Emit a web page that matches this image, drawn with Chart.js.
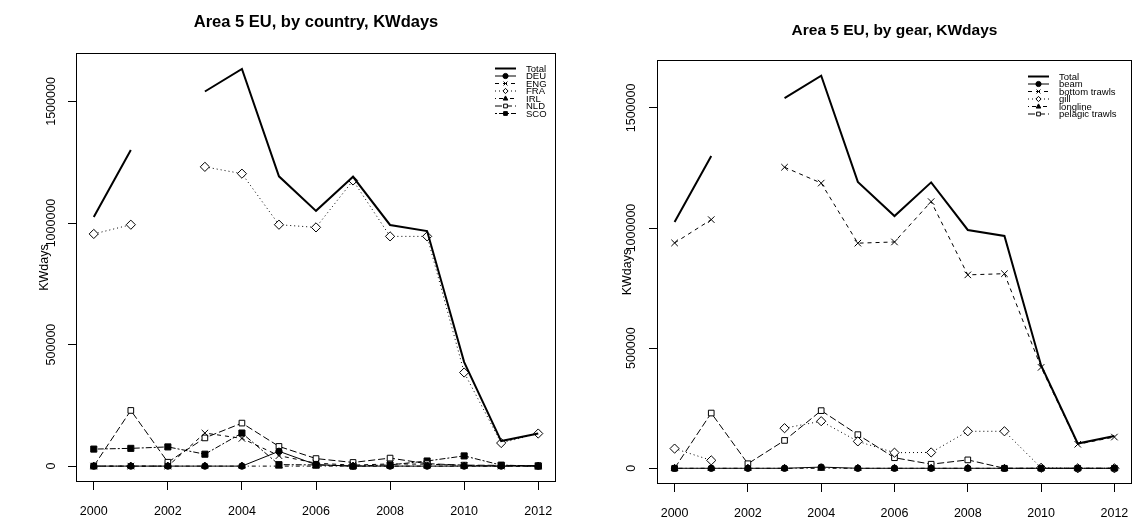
<!DOCTYPE html>
<html>
<head>
<meta charset="utf-8">
<title>Area 5 EU KWdays</title>
<script src="https://cdn.jsdelivr.net/npm/chart.js"></script>
<style>
  html, body { margin: 0; padding: 0; background: #fff; }
  #wrap { position: relative; width: 1132px; height: 520px; overflow: hidden; }
  .panel { position: absolute; top: 0; width: 566px; height: 520px; }
  #leftPanel { left: 0; }
  #rightPanel { left: 566px; }
</style>
</head>
<body>
<div id="wrap">
  <div class="panel" id="leftPanel"><canvas id="countryChart"></canvas></div>
  <div class="panel" id="rightPanel"><canvas id="gearChart"></canvas></div>
</div>
<script>
// =============== DATA ===============
const years = [2000, 2001, 2002, 2003, 2004, 2005, 2006, 2007, 2008, 2009, 2010, 2011, 2012];
const xTickValues = [2000, 2002, 2004, 2006, 2008, 2010, 2012];
const yTickValues = [0, 500000, 1000000, 1500000];

// total effort (same in both panels), null = no data
const totalKW = [1025000, 1300000, null, 1541000, 1634000, 1192000, 1050000, 1190000, 992000, 967000, 428000, 103000, 134000];

// by country
const countryNames = ["DEU", "ENG", "FRA", "IRL", "NLD", "SCO"];
const deuKW = [0, 0, 0, 0, 0, 61000, 6000, 0, 0, 0, 0, 0, 0];
const engKW = [0, 0, 0, 136000, 114000, 43000, 12000, 4000, 9000, 8000, 3000, 0, 0];
const fraKW = [955000, 993000, null, 1231000, 1203000, 993000, 982000, 1175000, 945000, 945000, 385000, 95000, 134000];
const irlKW = [0, 0, 0, 0, 0, 0, 0, 0, 0, 0, 0, 0, 0];
const nldKW = [0, 229000, 16000, 116000, 177000, 81000, 31000, 15000, 33000, 10000, 4000, 3000, 2000];
const scoKW = [70000, 73000, 79000, 49000, 136000, 6000, 5000, 0, 5000, 21000, 42000, 4000, 0];

// by gear
const gearNames = ["beam", "bottom trawls", "gill", "longline", "pelagic trawls"];
const beamKW = [0, 0, 0, 0, 5000, 0, 0, 0, 0, 0, 0, 0, 0];
const bottomTrawlKW = [938000, 1035000, null, 1253000, 1187000, 937000, 942000, 1110000, 805000, 810000, 420000, 100000, 130000];
const gillKW = [82000, 33000, null, 167000, 196000, 112000, 65000, 66000, 154000, 154000, 2000, 0, 0];
const longlineKW = [0, 0, 0, 0, 0, 0, 0, 0, 0, 0, 0, 0, 0];
const pelagicTrawlKW = [0, 230000, 19000, 116000, 240000, 140000, 44000, 17000, 35000, 0, 0, 0, 0];

// =============== R-like line types / symbols ===============
const LTY = {
    solid: [],
    dashed: [4, 4],
    dotted: [1, 3],
    dotdash: [1, 3, 4, 3],
    longdash: [7, 3],
    twodash: [2, 2, 6, 2]
};
// pch look: [chart.js pointStyle, filled?, radius]
const PCH = {
    dot: ['circle', true, 3.2],
    cross: ['crossRot', false, 4.6],
    diamond: ['rectRot', false, 4.6],
    tri: ['triangle', true, 4],
    openSq: ['rect', false, 4],
    fillSq: ['rect', true, 4.3]
};

const FONT = '"Liberation Sans", Arial, Helvetica, sans-serif';

function pts(vals) {
    return years.map((yr, i) => ({ x: yr, y: vals[i] }));
}

function totalSet(vals) {
    return {
        label: 'Total', data: pts(vals), borderColor: '#000', borderWidth: 2,
        pointRadius: 0, borderDash: [], _pch: null
    };
}

function seriesSet(label, vals, lty, pch) {
    const p = PCH[pch];
    return {
        label, data: pts(vals), borderColor: '#000', borderWidth: 1, borderDash: LTY[lty],
        pointStyle: p[0], pointRadius: p[2], pointBorderWidth: 1,
        pointBorderColor: '#000', pointBackgroundColor: p[1] ? '#000' : '#fff',
        _pch: pch
    };
}

// y range like R (4% either side)
const allVals = [].concat(totalKW, fraKW, bottomTrawlKW).filter(v => v !== null);
const yLo = Math.min(0, ...allVals), yHi = Math.max(...allVals);
const yPad = (yHi - yLo) * 0.04;
const xPad = (years[years.length - 1] - years[0]) * 0.04;

// =============== plugin: box, rotated y labels, legend ===============
function drawMark(ctx, pch, x, y, r) {
    const p = PCH[pch];
    ctx.save();
    ctx.lineWidth = 1;
    ctx.strokeStyle = '#000';
    ctx.fillStyle = p[1] ? '#000' : '#fff';
    ctx.beginPath();
    if (p[0] === 'circle') {
        ctx.arc(x, y, r, 0, Math.PI * 2);
        ctx.fill(); ctx.stroke();
    } else if (p[0] === 'crossRot') {
        const d = r * 0.75;
        ctx.moveTo(x - d, y - d); ctx.lineTo(x + d, y + d);
        ctx.moveTo(x - d, y + d); ctx.lineTo(x + d, y - d);
        ctx.stroke();
    } else if (p[0] === 'rectRot') {
        ctx.moveTo(x, y - r); ctx.lineTo(x + r, y); ctx.lineTo(x, y + r); ctx.lineTo(x - r, y);
        ctx.closePath(); ctx.fill(); ctx.stroke();
    } else if (p[0] === 'triangle') {
        ctx.moveTo(x, y - r); ctx.lineTo(x + r * 0.9, y + r * 0.6); ctx.lineTo(x - r * 0.9, y + r * 0.6);
        ctx.closePath(); ctx.fill(); ctx.stroke();
    } else {
        const h = r * 0.72;
        ctx.rect(x - h, y - h, 2 * h, 2 * h);
        ctx.fill(); ctx.stroke();
    }
    ctx.restore();
}

const rPlot = {
    id: 'rPlot',
    afterDraw(chart, args, opts) {
        const ctx = chart.ctx;
        const a = chart.chartArea;
        ctx.save();

        // plot box
        ctx.strokeStyle = '#000';
        ctx.lineWidth = 1;
        ctx.strokeRect(a.left + 0.5, a.top + 0.5, a.right - a.left - 1, a.bottom - a.top - 1);

        // y tick labels, vertical like R
        const ys = chart.scales.y;
        ctx.fillStyle = '#000';
        ctx.font = '12.5px ' + FONT;
        ctx.textAlign = 'center';
        ctx.textBaseline = 'middle';
        ys.ticks.forEach(t => {
            ctx.save();
            ctx.translate(a.left - opts.yLabelGap, ys.getPixelForValue(t.value));
            ctx.rotate(-Math.PI / 2);
            ctx.fillText(String(t.value), 0, 0);
            ctx.restore();
        });

        // legend (no box)
        ctx.font = '9.5px ' + FONT;
        ctx.textAlign = 'left';
        chart.data.datasets.forEach((ds, i) => {
            const y = opts.legendY + i * opts.legendRow;
            const x0 = opts.legendX, x1 = opts.legendX + 21;
            ctx.save();
            ctx.strokeStyle = '#000';
            ctx.lineWidth = ds.borderWidth;
            ctx.setLineDash(ds.borderDash || []);
            ctx.beginPath();
            ctx.moveTo(x0, y); ctx.lineTo(x1, y);
            ctx.stroke();
            ctx.restore();
            if (ds._pch) drawMark(ctx, ds._pch, (x0 + x1) / 2, y, 2.6);
            ctx.fillStyle = '#000';
            ctx.fillText(ds.label, x1 + 10, y + 0.5);
        });
        ctx.restore();
    }
};

function makeChart(id, title, datasets, cfg) {
    return new Chart(document.getElementById(id), {
        type: 'line',
        data: { datasets },
        options: {
            responsive: true,
            maintainAspectRatio: false,
            animation: false,
            spanGaps: false,
            layout: { autoPadding: false, padding: { left: 0, right: cfg.padRight, top: 0, bottom: 0 } },
            elements: { line: { tension: 0 } },
            plugins: {
                legend: { display: false },
                tooltip: { enabled: false },
                title: {
                    display: true, text: title, fullSize: false, color: '#000',
                    font: { family: FONT, size: cfg.titleSize, weight: 'bold', lineHeight: 1.2 },
                    padding: { top: cfg.titleTop, bottom: cfg.titleBottom }
                },
                rPlot: { yLabelGap: cfg.yLabelGap, legendX: cfg.legendX, legendY: cfg.legendY, legendRow: 7.5 }
            },
            scales: {
                x: {
                    type: 'linear',
                    min: years[0] - xPad,
                    max: years[years.length - 1] + xPad,
                    afterBuildTicks: s => { s.ticks = xTickValues.map(v => ({ value: v })); },
                    afterFit: s => { s.height = cfg.xHeight; s.paddingLeft = 0; s.paddingRight = 0; },
                    border: { display: false },
                    grid: { drawOnChartArea: false, drawTicks: true, tickLength: 8, color: '#000' },
                    ticks: {
                        color: '#000', padding: 14, maxRotation: 0, autoSkip: false,
                        font: { family: FONT, size: 12.5 },
                        callback: v => String(v)
                    }
                },
                y: {
                    type: 'linear',
                    min: yLo - yPad,
                    max: yHi + yPad,
                    afterBuildTicks: s => { s.ticks = yTickValues.map(v => ({ value: v })); },
                    afterFit: s => { s.width = cfg.yWidth; },
                    border: { display: false },
                    grid: { drawOnChartArea: false, drawTicks: true, tickLength: 8, color: '#000' },
                    ticks: { display: false },
                    title: {
                        display: true, text: 'KWdays', color: '#000',
                        font: { family: FONT, size: 12.5 },
                        padding: { top: cfg.ylabTop, bottom: 0 }
                    }
                }
            }
        },
        plugins: [rPlot]
    });
}

// =============== CHARTS ===============
makeChart('countryChart', 'Area 5 EU, by country, KWdays', [
    totalSet(totalKW),
    seriesSet(countryNames[0], deuKW, 'solid', 'dot'),
    seriesSet(countryNames[1], engKW, 'dashed', 'cross'),
    seriesSet(countryNames[2], fraKW, 'dotted', 'diamond'),
    seriesSet(countryNames[3], irlKW, 'dotdash', 'tri'),
    seriesSet(countryNames[4], nldKW, 'longdash', 'openSq'),
    seriesSet(countryNames[5], scoKW, 'twodash', 'fillSq')
], { padRight: 10, titleSize: 16.5, titleTop: 13, titleBottom: 20.2, yWidth: 76, xHeight: 38, yLabelGap: 24, ylabTop: 37, legendX: 495, legendY: 68.5 });

makeChart('gearChart', 'Area 5 EU, by gear, KWdays', [
    totalSet(totalKW),
    seriesSet(gearNames[0], beamKW, 'solid', 'dot'),
    seriesSet(gearNames[1], bottomTrawlKW, 'dashed', 'cross'),
    seriesSet(gearNames[2], gillKW, 'dotted', 'diamond'),
    seriesSet(gearNames[3], longlineKW, 'dotdash', 'tri'),
    seriesSet(gearNames[4], pelagicTrawlKW, 'longdash', 'openSq')
], { padRight: 0, titleSize: 15.5, titleTop: 21.5, titleBottom: 19.9, yWidth: 91, xHeight: 36, yLabelGap: 25, ylabTop: 54, legendX: 462, legendY: 76.5 });
</script>
</body>
</html>
